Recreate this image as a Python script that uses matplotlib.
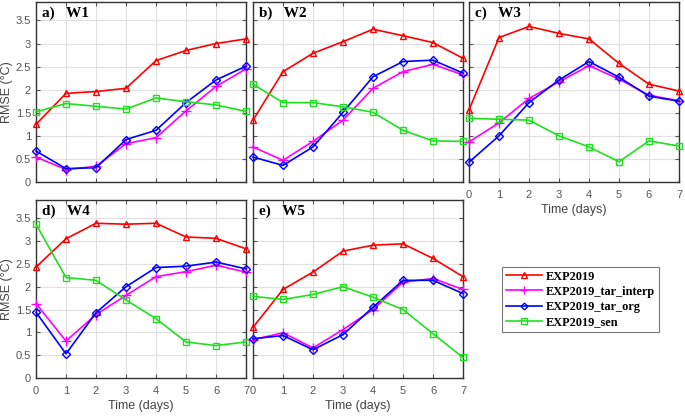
import matplotlib
matplotlib.use('Agg')
import matplotlib.pyplot as plt
import numpy as np

days = [0, 1, 2, 3, 4, 5, 6, 7]
panel_titles = ['a)   W1', 'b)   W2', 'c)   W3', 'd)   W4', 'e)   W5']
series_names = ['EXP2019', 'EXP2019_tar_interp', 'EXP2019_tar_org', 'EXP2019_sen']

# RMSE per panel: EXP2019, tar_interp, tar_org, sen
w1_exp = [1.25, 1.92, 1.96, 2.03, 2.63, 2.85, 3.00, 3.10]
w1_interp = [0.54, 0.27, 0.34, 0.83, 0.96, 1.54, 2.07, 2.45]
w1_org = [0.67, 0.29, 0.31, 0.92, 1.12, 1.72, 2.21, 2.51]
w1_sen = [1.52, 1.70, 1.64, 1.58, 1.82, 1.74, 1.67, 1.53]

w2_exp = [1.34, 2.39, 2.79, 3.04, 3.31, 3.17, 3.02, 2.68]
w2_interp = [0.76, 0.47, 0.88, 1.34, 2.03, 2.39, 2.55, 2.32]
w2_org = [0.54, 0.36, 0.76, 1.51, 2.28, 2.61, 2.64, 2.36]
w2_sen = [2.12, 1.72, 1.72, 1.63, 1.51, 1.12, 0.89, 0.88]

w3_exp = [1.56, 3.13, 3.37, 3.22, 3.10, 2.57, 2.12, 1.97]
w3_interp = [0.87, 1.28, 1.81, 2.17, 2.52, 2.23, 1.88, 1.76]
w3_org = [0.43, 1.00, 1.72, 2.21, 2.61, 2.27, 1.86, 1.75]
w3_sen = [1.38, 1.36, 1.34, 1.00, 0.76, 0.44, 0.89, 0.78]

w4_exp = [2.43, 3.05, 3.39, 3.37, 3.39, 3.09, 3.06, 2.83]
w4_interp = [1.63, 0.81, 1.39, 1.81, 2.22, 2.33, 2.47, 2.32]
w4_org = [1.44, 0.53, 1.43, 2.00, 2.42, 2.45, 2.54, 2.39]
w4_sen = [3.37, 2.20, 2.14, 1.71, 1.30, 0.79, 0.71, 0.79]

w5_exp = [1.11, 1.94, 2.32, 2.78, 2.91, 2.94, 2.62, 2.22]
w5_interp = [0.84, 0.99, 0.66, 1.06, 1.50, 2.10, 2.18, 1.94]
w5_org = [0.86, 0.93, 0.62, 0.95, 1.55, 2.14, 2.14, 1.85]
w5_sen = [1.79, 1.72, 1.83, 2.00, 1.77, 1.50, 0.97, 0.45]

panels = [
    (w1_exp, w1_interp, w1_org, w1_sen),
    (w2_exp, w2_interp, w2_org, w2_sen),
    (w3_exp, w3_interp, w3_org, w3_sen),
    (w4_exp, w4_interp, w4_org, w4_sen),
    (w5_exp, w5_interp, w5_org, w5_sen),
]

colors = ['#ff0000', '#ff00ff', '#0000ff', '#1fe01f']
markers = ['^', '+', 'D', 's']
msizes = [5, 6.5, 4.3, 4.8]

W, H = 685, 417
fig = plt.figure(figsize=(W / 100, H / 100), dpi=100)

# axes boxes in pixels: left, top, width, height
boxes = [
    (36, 2, 210, 180),
    (253, 2, 210, 180),
    (469, 2, 210, 180),
    (36, 200, 210, 178),
    (253, 200, 210, 178),
]

tick_color = '#555555'
sans = ['Liberation Sans', 'DejaVu Sans']
serif = ['Liberation Serif', 'DejaVu Serif']

axes = []
for i, (l, t, w, h) in enumerate(boxes):
    ax = fig.add_axes([l / W, 1 - (t + h) / H, w / W, h / H])
    axes.append(ax)
    for k, vals in enumerate(panels[i]):
        ax.plot(days, vals, color=colors[k], marker=markers[k], lw=1.2,
                ms=msizes[k], mfc='none', mew=1.0, clip_on=False,
                label=series_names[k], zorder=3)
    ax.set_xlim(0, 7)
    ax.set_ylim(0, 3.9)
    ax.set_xticks(days)
    ax.set_yticks(np.arange(0, 3.6, 0.5))
    ax.grid(True, color='#e0e0e0', lw=0.8)
    ax.set_axisbelow(True)
    ax.tick_params(direction='in', length=3, colors=tick_color, labelsize=8,
                   top=True, right=True, labelcolor=tick_color)
    ax.tick_params(axis='x', pad=6)
    for s in ax.spines.values():
        s.set_color('#333333')
        s.set_linewidth(1.0)
    ax.text(0.03, 0.975, panel_titles[i], transform=ax.transAxes, ha='left', va='top',
            fontsize=11, fontweight='bold', family=serif, zorder=5)
    if i in (0, 3):
        ax.set_yticklabels(['0', '0.5', '1', '1.5', '2', '2.5', '3', '3.5'], family=sans)
        ax.set_ylabel('RMSE (°C)', family=sans, fontsize=9, color='#444444', labelpad=2)
    else:
        ax.set_yticklabels([])
    if i in (2, 3, 4):
        ax.set_xticklabels([str(d) for d in days], family=sans)
        ax.set_xlabel('Time (days)', family=sans, fontsize=9, color='#444444', labelpad=3)
    else:
        ax.set_xticklabels([])

handles, labels = axes[0].get_legend_handles_labels()
leg = fig.legend(handles, labels, loc='upper left', bbox_to_anchor=(502 / W, 1 - 267 / H),
                 prop={'family': serif, 'weight': 'bold', 'size': 8.8},
                 frameon=True, fancybox=False, edgecolor='#555555', handlelength=3.0,
                 handletextpad=0.3, labelspacing=0.25, borderpad=0.3, borderaxespad=0,
                 markerscale=0.8)
leg.get_frame().set_linewidth(0.8)

fig.savefig('out.png', dpi=100, facecolor='white')
